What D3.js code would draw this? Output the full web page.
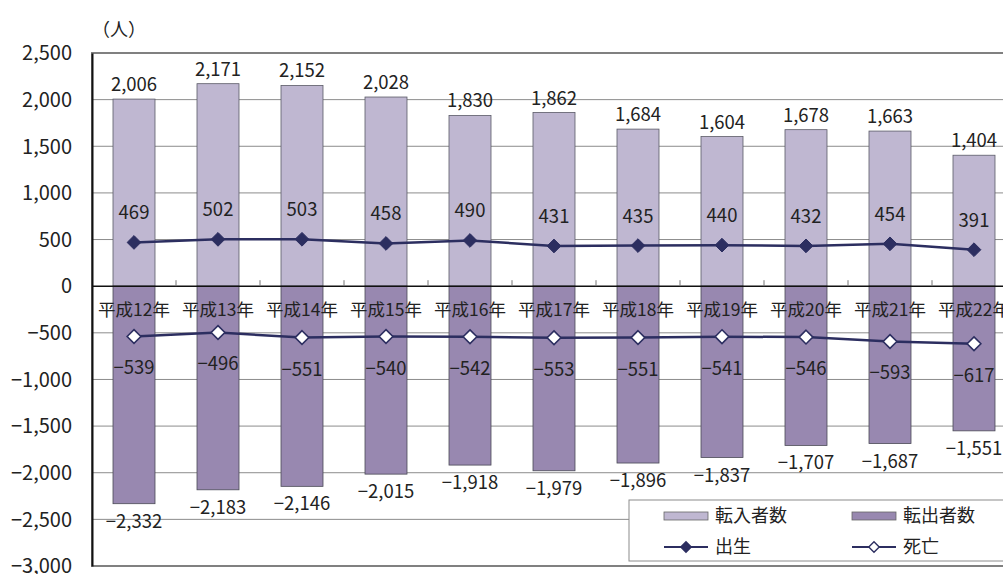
<!DOCTYPE html>
<html>
<head>
<meta charset="utf-8">
<script src="https://cdn.jsdelivr.net/npm/d3@7"></script>
<style>
  body { margin: 0; background: #fff; }
  svg { display: block; }
  text { font-family: "Noto Sans CJK JP", "Noto Sans", sans-serif; fill: #222; }
</style>
</head>
<body>
<svg id="chart" width="1003" height="574"></svg>
<script>
var years = ["平成12年", "平成13年", "平成14年", "平成15年", "平成16年", "平成17年",
             "平成18年", "平成19年", "平成20年", "平成21年", "平成22年"];
var moveIn = [2006, 2171, 2152, 2028, 1830, 1862, 1684, 1604, 1678, 1663, 1404];
var moveOut = [-2332, -2183, -2146, -2015, -1918, -1979, -1896, -1837, -1707, -1687, -1551];
var births = [469, 502, 503, 458, 490, 431, 435, 440, 432, 454, 391];
var deaths = [-539, -496, -551, -540, -542, -553, -551, -541, -546, -593, -617];
var yTicks = [2500, 2000, 1500, 1000, 500, 0, -500, -1000, -1500, -2000, -2500, -3000];

var legendItems = [
  { name: "転入者数", type: "bar", color: "#bfb7d1" },
  { name: "転出者数", type: "bar", color: "#9888b0" },
  { name: "出生", type: "line", fill: "#2c2e60" },
  { name: "死亡", type: "line", fill: "#fff" }
];

function drawChart() {
  var svg = d3.select("#chart");
  var margin = { left: 92, top: 53 };
  var plotW = 924, plotH = 513;
  var g = svg.append("g").attr("transform", "translate(" + margin.left + "," + margin.top + ")");

  var x = d3.scaleBand().domain(years).range([0, plotW]).paddingInner(0.5).paddingOuter(0.25);
  var y = d3.scaleLinear().domain([-3000, 2500]).range([plotH, 0]);
  var fmt = d3.format(",");
  var lineColor = "#2c2e60";
  var gap = (x.step() - x.bandwidth()) / 2;

  // gridlines
  g.append("g")
    .selectAll("line")
    .data(yTicks.filter(function(d) { return d !== 0 && d !== -3000 && d !== 2500; }))
    .join("line")
      .attr("x1", 0).attr("x2", plotW)
      .attr("y1", function(d) { return y(d); })
      .attr("y2", function(d) { return y(d); })
      .attr("stroke", "#8c8c8c")
      .attr("stroke-width", 1);

  // plot frame
  g.append("rect")
    .attr("x", 0).attr("y", 0).attr("width", plotW).attr("height", plotH)
    .attr("fill", "none").attr("stroke", "#808080").attr("stroke-width", 2);

  // bars
  g.append("g").selectAll("rect")
    .data(moveIn)
    .join("rect")
      .attr("x", function(d, i) { return x(years[i]); })
      .attr("y", function(d) { return y(d); })
      .attr("width", x.bandwidth())
      .attr("height", function(d) { return y(0) - y(d); })
      .attr("fill", legendItems[0].color)
      .attr("stroke", "#5a5a66").attr("stroke-width", 0.8);

  g.append("g").selectAll("rect")
    .data(moveOut)
    .join("rect")
      .attr("x", function(d, i) { return x(years[i]); })
      .attr("y", y(0))
      .attr("width", x.bandwidth())
      .attr("height", function(d) { return y(d) - y(0); })
      .attr("fill", legendItems[1].color)
      .attr("stroke", "#4a4a56").attr("stroke-width", 0.8);

  // y axis
  var yAxis = g.append("g")
    .call(d3.axisLeft(y).tickValues(yTicks).tickSize(0).tickPadding(20)
      .tickFormat(function(d) { return fmt(d); }));
  yAxis.select(".domain").attr("stroke", "#111").attr("stroke-width", 2);
  yAxis.selectAll("text")
    .style("font-size", "20px")
    .attr("fill", "#222")
    .attr("dy", "0.34em");

  // zero line + category ticks
  g.append("line")
    .attr("x1", 0).attr("x2", plotW)
    .attr("y1", y(0)).attr("y2", y(0))
    .attr("stroke", "#111").attr("stroke-width", 1.5);
  g.append("g").selectAll("line")
    .data(years.slice(1))
    .join("line")
      .attr("x1", function(d) { return x(d) - gap; })
      .attr("x2", function(d) { return x(d) - gap; })
      .attr("y1", y(0) - 6).attr("y2", y(0))
      .attr("stroke", "#777").attr("stroke-width", 1);

  // category labels
  g.append("g").selectAll("text")
    .data(years)
    .join("text")
      .attr("x", function(d) { return x(d) + x.bandwidth() / 2; })
      .attr("y", y(0) + 30)
      .attr("text-anchor", "middle")
      .style("font-size", "17.5px")
      .text(function(d) { return d; });

  // lines
  var line = d3.line()
    .x(function(d, i) { return x(years[i]) + x.bandwidth() / 2; })
    .y(function(d) { return y(d); });
  var diamond = d3.symbol().type(d3.symbolDiamond2).size(120);

  [births, deaths].forEach(function(series, k) {
    g.append("path")
      .datum(series)
      .attr("fill", "none")
      .attr("stroke", lineColor)
      .attr("stroke-width", 2.5)
      .attr("d", line);
    g.append("g").selectAll("path")
      .data(series)
      .join("path")
        .attr("transform", function(d, i) {
          return "translate(" + (x(years[i]) + x.bandwidth() / 2) + "," + y(d) + ")";
        })
        .attr("d", diamond)
        .attr("fill", k === 0 ? lineColor : "#fff")
        .attr("stroke", lineColor)
        .attr("stroke-width", k === 0 ? 1 : 1.6);
  });

  // data labels
  function labels(series, dy) {
    g.append("g").selectAll("text")
      .data(series)
      .join("text")
        .attr("x", function(d, i) { return x(years[i]) + x.bandwidth() / 2; })
        .attr("y", function(d) { return y(d) + dy; })
        .attr("text-anchor", "middle")
        .style("font-size", "18.5px")
        .text(function(d) { return fmt(d); });
  }
  labels(moveIn, -8);
  labels(moveOut, 24);
  labels(births, -23);
  labels(deaths, 38);

  // unit label
  svg.append("text")
    .attr("x", 92).attr("y", 36)
    .style("font-size", "18px")
    .text("（人）");

  // legend
  var lg = svg.append("g").attr("transform", "translate(629,500)");
  lg.append("rect")
    .attr("width", 400).attr("height", 61)
    .attr("fill", "#fff").attr("stroke", "#8c8c8c").attr("stroke-width", 1);
  legendItems.forEach(function(item, i) {
    var col = i % 2, row = Math.floor(i / 2);
    var ix = 35 + col * 188, iy = 16 + row * 31;
    var it = lg.append("g").attr("transform", "translate(" + ix + "," + iy + ")");
    if (item.type === "bar") {
      it.append("rect").attr("x", 0).attr("y", -4).attr("width", 44).attr("height", 8)
        .attr("fill", item.color).attr("stroke", "#666").attr("stroke-width", 0.8);
    } else {
      it.append("line").attr("x1", 0).attr("x2", 44).attr("y1", 0).attr("y2", 0)
        .attr("stroke", lineColor).attr("stroke-width", 2);
      it.append("path").attr("transform", "translate(22,0)")
        .attr("d", d3.symbol().type(d3.symbolDiamond2).size(70))
        .attr("fill", item.fill).attr("stroke", lineColor).attr("stroke-width", 1.4);
    }
    it.append("text").attr("x", 51).attr("y", 0).attr("dy", "0.36em")
      .style("font-size", "18px")
      .text(item.name);
  });
}

drawChart();
</script>
</body>
</html>
